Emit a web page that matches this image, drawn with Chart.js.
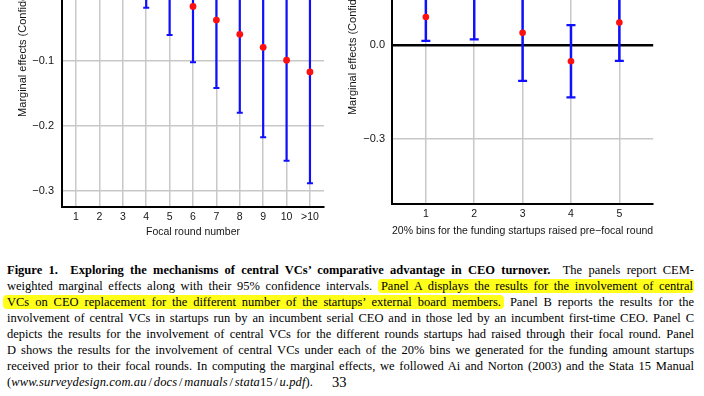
<!DOCTYPE html>
<html>
<head>
<meta charset="utf-8">
<script src="https://cdn.jsdelivr.net/npm/chart.js@4.4.1/dist/chart.umd.min.js"></script>
<style>
html,body{margin:0;padding:0;background:#fff;}
body{width:704px;height:396px;overflow:hidden;position:relative;}
#chartA{position:absolute;left:0;top:-175px;}
#chartB{position:absolute;left:340px;top:-175px;}
#caption{position:absolute;left:7px;top:262px;width:687px;font-family:'Liberation Serif','Times New Roman',serif;font-size:12.5px;line-height:16px;color:#000;}
#caption .ln{text-align:justify;text-align-last:justify;position:relative;}
#caption .last{text-align:left;text-align-last:left;}
#caption .last i{letter-spacing:0.15px;}
#caption .sl{margin:0 1.8px;}
.hl{background:#ffff1a;border-radius:4px;}
.pg{position:absolute;left:325px;top:0;font-size:14.5px;font-style:normal;}
</style>
</head>
<body>
<canvas id="chartA" width="329" height="415"></canvas>
<canvas id="chartB" width="320" height="415"></canvas>
<div id="caption">
<div class="ln"><b>Figure 1.&nbsp; Exploring the mechanisms of central VCs’ comparative advantage in CEO turnover.</b>&nbsp; The panels report CEM-</div>
<div class="ln">weighted marginal effects along with their 95% confidence intervals. <span class="hl" style="padding:0 1px 0 3px;">Panel A displays the results for the involvement of central</span></div>
<div class="ln"><span class="hl" style="margin-left:-4px;padding:0 3px 0 4px;">VCs on CEO replacement for the different number of the startups’ external board members.</span> Panel B reports the results for the</div>
<div class="ln">involvement of central VCs in startups run by an incumbent serial CEO and in those led by an incumbent first-time CEO. Panel C</div>
<div class="ln">depicts the results for the involvement of central VCs for the different rounds startups had raised through their focal round. Panel</div>
<div class="ln">D shows the results for the involvement of central VCs under each of the 20% bins we generated for the funding amount startups</div>
<div class="ln">received prior to their focal rounds. In computing the marginal effects, we followed Ai and Norton (2003) and the Stata 15 Manual</div>
<div class="ln last">(<i>www.surveydesign.com.au</i><span class="sl">/</span><i>docs</i><span class="sl">/</span><i>manuals</i><span class="sl">/</span><i>stata</i>15<span class="sl">/</span><i>u.pdf</i>).<span class="pg">33</span></div>
</div>
<script>
// ---- Panel A: Focal round number ----
const categoriesA = ['1','2','3','4','5','6','7','8','9','10','>10'];
const estimateA  = [0.085, 0.065, 0.045, 0.022, 0.003, -0.016, -0.037, -0.059, -0.079, -0.099, -0.117];
const lowerA     = [0.030, 0.020, 0.008, -0.018, -0.060, -0.102, -0.142, -0.180, -0.218, -0.254, -0.289];
const upperA     = [0.140, 0.110, 0.082, 0.062, 0.066, 0.070, 0.068, 0.062, 0.060, 0.056, 0.055];
const yTicksA    = [-0.3, -0.2, -0.1, 0.0, 0.1, 0.2];

// ---- Panel B: 20% funding bins ----
const categoriesB = ['1','2','3','4','5'];
const estimateB  = [0.091, 0.160, 0.040, -0.051, 0.073];
const lowerB     = [0.014, 0.019, -0.114, -0.167, -0.050];
const upperB     = [0.168, 0.300, 0.194, 0.065, 0.196];
const yTicksB    = [-0.3, 0.0, 0.3];

const yTitle = 'Marginal effects (Confidence intervals)';
const xTitleA = 'Focal round number';
const xTitleB = '20% bins for the funding startups raised pre\u2212focal round';

Chart.defaults.font.family = "'Liberation Sans', Arial, sans-serif";
Chart.defaults.font.size = 10.5;
Chart.defaults.color = '#151515';

const BLUE = '#1010ff';
const RED = '#ff1010';
const GRID = '#c8c8c8';

function fmt(v){
  const s = Math.abs(v).toFixed(1);
  return (v < -1e-9 ? '\u2212' : '') + s;
}

function panel(id, cats, est, lo, hi, yTicks, o){
  const pos = cats.map((c,i)=>i+1);
  const points = pos.map((x,i)=>({x:x, y:est[i]}));
  const caps = pos.flatMap((x,i)=>[{x:x,y:lo[i]},{x:x,y:hi[i]}]);
  const bars = pos.flatMap((x,i)=>[{x:x,y:lo[i]},{x:x,y:hi[i]},{x:x,y:null}]);
  return new Chart(document.getElementById(id), {
    type:'line',
    data:{datasets:[
      {data:points, showLine:false, pointStyle:'circle', pointRadius:o.r, pointHoverRadius:o.r,
       pointBackgroundColor:RED, pointBorderColor:RED, pointBorderWidth:0},
      {data:caps, showLine:false, pointStyle:'line', pointRadius:o.capR, pointHoverRadius:o.capR,
       pointBorderColor:BLUE, pointBackgroundColor:BLUE, pointBorderWidth:o.capW},
      {data:bars, borderColor:BLUE, borderWidth:o.lw, pointRadius:0, spanGaps:false, fill:false, tension:0}
    ]},
    options:{
      responsive:false, animation:false,
      layout:{padding:{top:o.padTop, left:0, right:0, bottom:0}},
      plugins:{legend:{display:false}, tooltip:{enabled:false}},
      scales:{
        x:{type:'linear', min:o.xmin, max:o.xmax,
           afterBuildTicks:s=>{ s.ticks = pos.map(v=>({value:v})); },
           ticks:{callback:v=>cats[Math.round(v)-1], padding:o.xPad, autoSkip:false, maxRotation:0},
           grid:{color:GRID, lineWidth:1.5, drawTicks:false},
           border:{color:'#000', width:2},
           title:{display:true, text:o.xTitle, font:{size:o.xTitleSize}, padding:{top:0, bottom:o.xTitlePad}},
           afterFit:s=>{ s.height = o.xH; }},
        y:{type:'linear', min:o.ymin, max:o.ymax,
           afterBuildTicks:s=>{ s.ticks = yTicks.map(v=>({value:v})); },
           ticks:{callback:v=>fmt(v), padding:o.yPad, font:{size:11}},
           grid:{color:c=>(c.tick && Math.abs(c.tick.value)<1e-9)?'#000':GRID,
                 lineWidth:c=>(c.tick && Math.abs(c.tick.value)<1e-9)?2.5:1.5, drawTicks:false},
           border:{color:'#000', width:2},
           title:{display:true, text:yTitle, font:{size:11}, padding:{top:o.yTitlePad, bottom:0}},
           afterFit:s=>{ s.width = o.yW; }}
      }
    }
  });
}

panel('chartA', categoriesA, estimateA, lowerA, upperA, yTicksA, {
  r:3.4, capR:3, capW:2, lw:2.2, padTop:6.7,
  xmin:0.4, xmax:11.6, ymin:-0.325, ymax:0.2415,
  xPad:4, xH:33.3, xTitle:xTitleA, xTitleSize:10.5, xTitlePad:2,
  yPad:8, yW:62, yTitlePad:16
});

panel('chartB', categoriesB, estimateB, lowerB, upperB, yTicksB, {
  r:3.3, capR:4.5, capW:2.3, lw:2.5, padTop:5.4,
  xmin:0.3, xmax:5.7, ymin:-0.509, ymax:0.663,
  xPad:4, xH:36, xTitle:xTitleB, xTitleSize:10.7, xTitlePad:3,
  yPad:7, yW:52, yTitlePad:6
});
</script>
</body>
</html>
